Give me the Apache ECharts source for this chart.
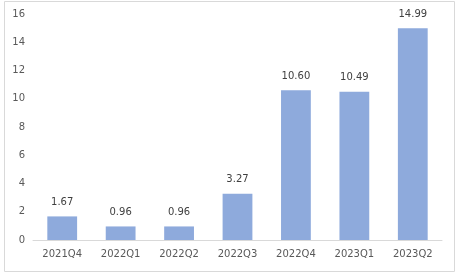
<!DOCTYPE html>
<html><head><meta charset="utf-8">
<script src="https://cdn.jsdelivr.net/npm/echarts@6/dist/echarts.min.js"></script>
<style>html,body{margin:0;padding:0;background:#fff}#c{width:460px;height:276px}</style>
</head><body><div id="c"></div>
<script>
var categories = ['2021Q4','2022Q1','2022Q2','2022Q3','2022Q4','2023Q1','2023Q2'];
var values = [1.67, 0.96, 0.96, 3.27, 10.60, 10.49, 14.99];
var chart = echarts.init(document.getElementById('c'));
chart.setOption({
  animation: false,
  graphic: [{type:'rect', shape:{x:4.5,y:1.5,width:450,height:270}, style:{fill:'none', stroke:'#d9d9d9', lineWidth:1}}],
  grid: {left:33, right:18, top:14, bottom:36},
  xAxis: {type:'category', data:categories,
    axisLine:{lineStyle:{color:'#d9d9d9'}}, axisTick:{show:false},
    axisLabel:{color:'#595959', fontFamily:'DejaVu Sans', fontSize:10, margin:9}},
  yAxis: {type:'value', min:0, max:16, interval:2,
    axisLine:{show:false}, axisTick:{show:false}, splitLine:{show:false},
    axisLabel:{color:'#595959', fontFamily:'DejaVu Sans', fontSize:10, margin:8}},
  series: [{type:'bar', data:values, barWidth:'51%',
    itemStyle:{color:'#8eaadc'},
    label:{show:true, position:'top', distance:9, color:'#404040', fontFamily:'DejaVu Sans', fontSize:10,
      formatter:function(p){return p.value.toFixed(2);}}}]
});
</script></body></html>
